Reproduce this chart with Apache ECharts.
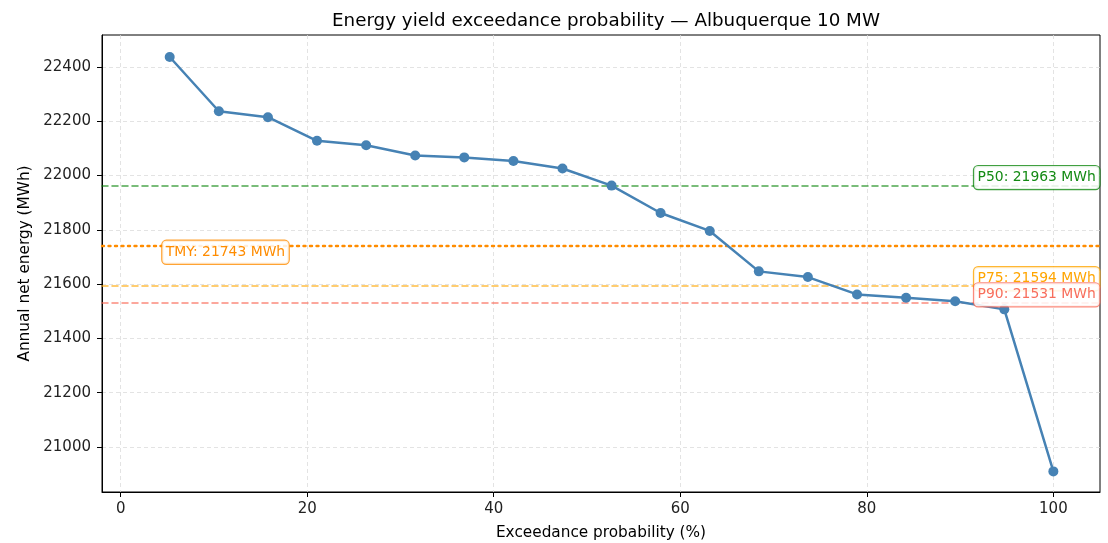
<!DOCTYPE html>
<html>
<head>
<meta charset="utf-8">
<script src="https://cdn.jsdelivr.net/npm/echarts@6/dist/echarts.min.js"></script>
<style>html,body{margin:0;padding:0;background:#fff}#c{width:1108px;height:543px}</style>
</head>
<body>
<div id="c"></div>
<script>
const exceedance = [5.26, 10.53, 15.79, 21.05, 26.32, 31.58, 36.84, 42.11, 47.37, 52.63, 57.89, 63.16, 68.42, 73.68, 78.95, 84.21, 89.47, 94.74, 100];
const energy = [22437, 22237, 22215, 22128, 22112, 22074, 22067, 22054, 22026, 21963, 21862, 21796, 21647, 21626, 21562, 21550, 21537, 21507, 20910];
const refNames = ['P50', 'P75', 'P90', 'TMY'];
const refValues = [21963, 21594, 21531, 21743];
const xTicks = [0, 20, 40, 60, 80, 100];
const yTicks = [21000, 21200, 21400, 21600, 21800, 22000, 22200, 22400];

const FONT = 'DejaVu Sans';
const refStyle = {
  P50: {line: 'rgba(0,128,0,0.7)', text: '#138a13', border: 'rgba(0,128,0,0.75)', type: [6, 4], width: 1.5, lx: 91.5, off: -8},
  P75: {line: 'rgba(255,165,0,0.75)', text: '#ffa500', border: 'rgba(255,165,0,0.8)', type: [6, 4], width: 1.5, lx: 91.5, off: -7},
  P90: {line: 'rgba(250,100,80,0.75)', text: '#f86e5c', border: 'rgba(250,100,80,0.75)', type: [6, 4], width: 1.5, lx: 91.5, off: -8},
  TMY: {line: '#ff8c00', text: '#ff8c00', border: 'rgba(255,140,0,0.8)', type: [2, 4.5], width: 2.4, lx: 4.47, off: 7}
};

const markLines = refNames.map((n, i) => ({
  yAxis: refValues[i],
  lineStyle: {color: refStyle[n].line, type: refStyle[n].type, width: refStyle[n].width, cap: 'round'},
  label: {show: false}
}));
const markPoints = refNames.map((n, i) => ({
  coord: [refStyle[n].lx, refValues[i]],
  symbol: 'circle', symbolSize: 0,
  label: {
    show: true, position: 'right', distance: 0, offset: [0, refStyle[n].off],
    formatter: n + ': ' + refValues[i] + ' MWh',
    color: refStyle[n].text, fontFamily: FONT, fontSize: 13.9,
    backgroundColor: 'rgba(255,255,255,0.85)', borderColor: refStyle[n].border,
    borderWidth: 1.2, borderRadius: 4, padding: [5, 3.5, 4, 3.5]
  }
}));

const chart = echarts.init(document.getElementById('c'), null, {renderer: 'canvas'});
chart.setOption({
  animation: false,
  backgroundColor: '#fff',
  title: {
    text: 'Energy yield exceedance probability — Albuquerque 10 MW',
    left: 601, textAlign: 'center', top: 7,
    textStyle: {fontFamily: FONT, fontSize: 18.3, fontWeight: 'normal', color: '#000'}
  },
  grid: {left: 102, right: 8, top: 35, bottom: 51, outerBoundsMode: 'none', containLabel: false, show: true, borderColor: '#000', borderWidth: 1, backgroundColor: 'transparent'},
  xAxis: {
    type: 'value', min: -2, max: 105,
    name: 'Exceedance probability (%)', nameLocation: 'middle', nameGap: 34,
    nameTextStyle: {fontFamily: FONT, fontSize: 15.3, color: '#000'},
    axisLine: {show: true, onZero: false, lineStyle: {color: '#000'}},
    axisTick: {show: true, inside: false, length: 5, lineStyle: {color: '#000'}, customValues: xTicks},
    axisLabel: {fontFamily: FONT, fontSize: 15, color: '#222', margin: 10, customValues: xTicks, formatter: v => String(v)},
    splitLine: {show: true, lineStyle: {color: '#dcdcdc', type: [4, 3], width: 0.8}}
  },
  yAxis: {
    type: 'value', min: 20834, max: 22518,
    name: 'Annual net energy (MWh)', nameLocation: 'middle', nameGap: 66,
    nameTextStyle: {fontFamily: FONT, fontSize: 15.3, color: '#000'},
    axisLine: {show: true, onZero: false, lineStyle: {color: '#000'}},
    axisTick: {show: true, inside: false, length: 5, lineStyle: {color: '#000'}, customValues: yTicks},
    axisLabel: {fontFamily: FONT, fontSize: 15, color: '#222', margin: 11, customValues: yTicks, formatter: v => String(v)},
    splitLine: {show: true, lineStyle: {color: '#dcdcdc', type: [4, 3], width: 0.8}}
  },
  series: [{
    type: 'line',
    data: exceedance.map((x, i) => [x, energy[i]]),
    symbol: 'circle', symbolSize: 10,
    itemStyle: {color: '#4682b4'},
    lineStyle: {color: '#4682b4', width: 2.5},
    z: 3,
    markLine: {silent: true, symbol: ['none', 'none'], data: markLines, animation: false, z: 2},
    markPoint: {silent: true, data: markPoints, animation: false, z: 5}
  }]
});
</script>
</body>
</html>
